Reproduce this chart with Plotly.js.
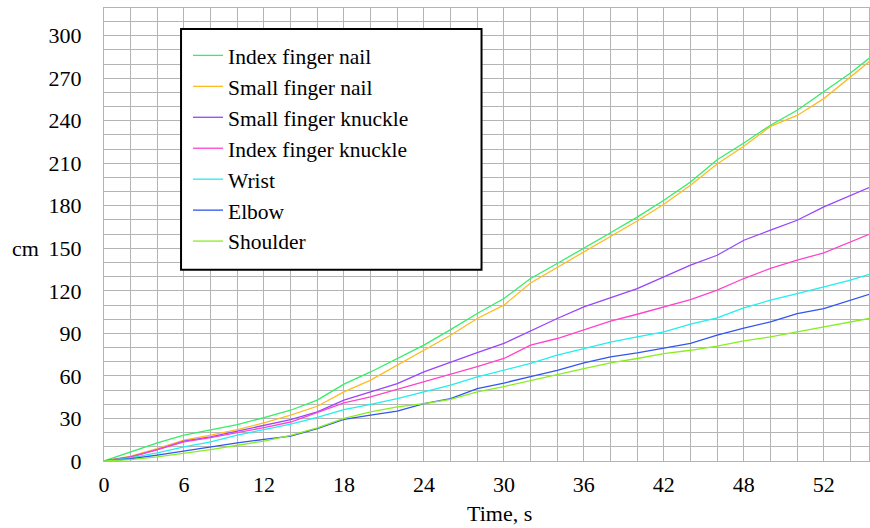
<!DOCTYPE html>
<html>
<head>
<meta charset="utf-8">
<script src="https://cdn.plot.ly/plotly-3.0.1.min.js"></script>
<style>html,body{margin:0;padding:0;background:#fff;}#chart{width:870px;height:528px;}</style>
</head>
<body>
<div id="chart"></div>
<script>
const time = [0,2,4,6,8,10,12,14,16,18,20,22,24,26,28,30,32,34,36,38,40,42,44,46,48,50,52,54,56,57.4];
const indexNail = [0,6.5,12.8,18.2,21.7,25.7,30.6,35.8,42.9,54.2,62.8,72.3,81.7,92.7,104,114.6,128.7,139.3,149.9,161,172,183.9,196.8,212.5,224.3,236.8,247.4,260.3,273.7,284];
const smallNail = [0,3.4,8.8,14.7,18.2,22.2,26.9,32.3,38.6,48.7,57,67.6,78.6,88.7,100.5,109.9,125.6,136.5,147.5,158,169.3,181.1,194.5,209.5,222,236,243.7,255.6,270.9,281.5];
const smallKnuckle = [0,2.9,8.1,14,17,21,25.2,29.2,34.6,42.9,48.7,54.6,62.8,69.9,76.5,82.9,91.8,100.5,108.7,115.3,121.6,129.8,138.1,145.1,155.7,162.8,169.8,179.2,187.4,192.9];
const indexKnuckle = [0,2.8,8,13.5,16.5,19.8,23.5,27.5,34,41,45.2,50.4,55.8,61.2,66.5,72.3,81.7,86.4,92.7,98.7,103.5,108.7,113.9,120.5,128.7,135.8,141.6,146.8,154.5,159.9];
const wrist = [0,2.2,5.7,9.9,13.5,18.2,22.2,26,30.7,36.3,40,44,48.7,53.5,59.3,64,68.8,74.6,79.3,83.8,87.5,91,96.5,100.9,108,113.4,118.1,122.8,127.5,131.7];
const elbow = [0,1.6,4.1,7.1,9.9,12.8,15.2,17.5,22.9,29.3,32.3,35.1,40.5,44,51.1,55,59.5,64,69.2,73.4,76.2,79.8,82.9,88.7,93.7,98.1,104,107.5,113.4,117.6];
const shoulder = [0,1,2.9,5.3,8.1,11.1,14,18,23.3,30,34.6,38.2,40.5,43.5,48.7,52.5,57,61,65.2,69.2,72.3,75.8,78.1,81,84.7,87.5,91,94.6,98.1,100.5];

const seriesNames = ['Index finger nail','Small finger nail','Small finger knuckle','Index finger knuckle','Wrist','Elbow','Shoulder'];
const seriesValues = [indexNail, smallNail, smallKnuckle, indexKnuckle, wrist, elbow, shoulder];
const seriesColors = ['#33ee66','#ffbb22','#9944ff','#ff44cc','#22eeee','#3355ee','#88ee22'];

const xTickVals = [0,6,12,18,24,30,36,42,48,54];
const xTickText = ['0','6','12','18','24','30','36','42','48','52'];
const yTickVals = [0,30,60,90,120,150,180,210,240,270,300];

const font = 'Liberation Serif, serif';

const traces = seriesNames.map((n, i) => ({
  x: time, y: seriesValues[i], name: n, type: 'scatter', mode: 'lines',
  line: {color: seriesColors[i], width: 1.3}
}));

const grid = '#b4b4b4';
const layout = {
  width: 870, height: 528,
  margin: {l: 104, r: 1, t: 8, b: 67},
  paper_bgcolor: '#fff', plot_bgcolor: '#fff',
  font: {family: font, size: 22, color: '#000'},
  showlegend: true,
  legend: {x: 0.1098, y: 0.9406, xanchor: 'left', yanchor: 'top', bgcolor: 'rgba(0,0,0,0)',
           borderwidth: 0, font: {family: font, size: 21.5, color: '#000'}, tracegroupgap: 0},
  xaxis: {range: [0, 57.39], tickmode: 'array', tickvals: xTickVals, ticktext: xTickText,
          showgrid: true, gridcolor: grid, gridwidth: 1, zeroline: false, showline: true, linecolor: grid,
          mirror: true, ticks: '', ticklabelstandoff: 4,
          tickfont: {family: font, size: 22, color: '#000'},
          minor: {dtick: 2, showgrid: true, gridcolor: grid, gridwidth: 1}},
  yaxis: {range: [0, 319.5], tickmode: 'array', tickvals: yTickVals,
          showgrid: true, gridcolor: grid, gridwidth: 1, zeroline: false, showline: true, linecolor: grid,
          mirror: true, ticks: '', ticklabelstandoff: 17,
          tickfont: {family: font, size: 22, color: '#000'},
          minor: {dtick: 10, showgrid: true, gridcolor: grid, gridwidth: 1}},
  shapes: [{type: 'rect', xref: 'paper', yref: 'paper', x0: 0.1007, x1: 0.4935, y0: 0.4223, y1: 0.9536,
            line: {color: '#000', width: 2}, fillcolor: '#fff', layer: 'above'}],
  annotations: [
    {text: 'cm', xref: 'paper', yref: 'y', x: -0.1229, y: 150, xanchor: 'left', yanchor: 'middle',
     showarrow: false, font: {family: font, size: 22, color: '#000'}},
    {text: 'Time, s', xref: 'x', yref: 'paper', x: 29.7, y: -0.115, xanchor: 'center', yanchor: 'middle',
     showarrow: false, font: {family: font, size: 22, color: '#000'}}
  ]
};
Plotly.newPlot('chart', traces, layout, {displayModeBar: false, staticPlot: true});
</script>
</body>
</html>
